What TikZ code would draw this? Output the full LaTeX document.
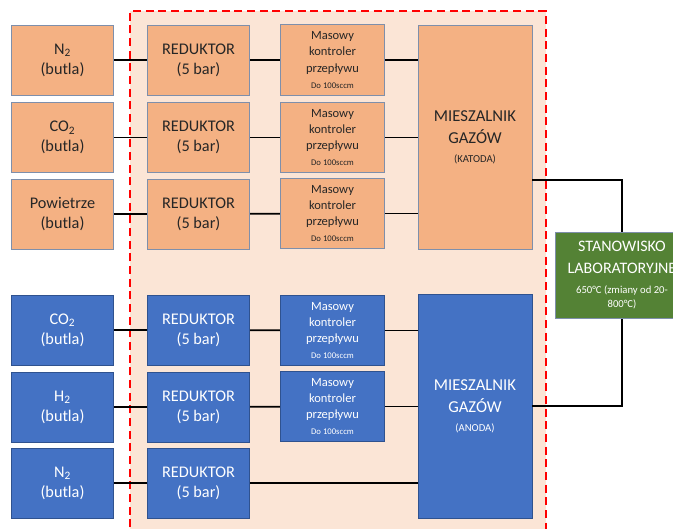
\documentclass[tikz,border=0pt]{standalone}
\usepackage{fontspec}
\setmainfont{Carlito}
\definecolor{peach}{HTML}{FBE5D6}
\definecolor{orangebox}{HTML}{F4B183}
\definecolor{bluebox}{HTML}{4472C4}
\definecolor{greenbox}{HTML}{548235}
\definecolor{edgegray}{HTML}{7E8FAB}
\definecolor{edgeblue}{HTML}{2F528F}
\definecolor{dashred}{HTML}{FF0000}
\tikzset{
  box/.style={draw, line width=0.6pt, align=center, inner sep=1pt},
  cathode/.style={box, fill=orangebox, draw=edgegray, text=black!85},
  anode/.style={box, fill=bluebox, draw=edgeblue, text=white},
  bottle/.style={minimum width=77pt, minimum height=52.5pt, font=\fontsize{12.2}{15}\selectfont},
  reducer/.style={minimum width=77pt, minimum height=52.5pt, font=\fontsize{12.2}{15}\selectfont},
  flowctl/.style={minimum width=78.5pt, minimum height=53pt, font=\fontsize{9.4}{12.2}\selectfont},
  mixer/.style={minimum width=85.5pt, minimum height=168pt, font=\fontsize{12.5}{16.5}\selectfont},
  pipe/.style={draw=black, line width=1.3pt}
}
\newcommand{\mfc}{Masowy\\kontroler\\przepływu\\{\fontsize{6.5}{9}\selectfont Do 100sccm}}
\newcommand{\red}{REDUKTOR\\(5 bar)}
\begin{document}
\begin{tikzpicture}[x=0.75pt,y=-0.75pt]
                \useasboundingbox (0,0) rectangle (673,528);
                % obszar stanowiska
                \fill[peach] (130,11) rectangle (546,540);
                \draw[dashred, line width=1.6pt, dash pattern=on 6pt off 3.5pt] (130,540) -- (130,11) -- (546,11) -- (546,540);

                % katoda
                \node[cathode,bottle] (b1) at (62.5,60) {N\textsubscript{2}\\(butla)};
                \node[cathode,bottle] (b2) at (62.5,137.5) {CO\textsubscript{2}\\(butla)};
                \node[cathode,bottle] (b3) at (62.5,214) {Powietrze\\(butla)};
                \node[cathode,reducer] (r1) at (198.5,60) {\red};
                \node[cathode,reducer] (r2) at (198.5,137.5) {\red};
                \node[cathode,reducer] (r3) at (198.5,214) {\red};
                \node[cathode,flowctl] (m1) at (332.5,60) {\mfc};
                \node[cathode,flowctl] (m2) at (332.5,137.5) {\mfc};
                \node[cathode,flowctl] (m3) at (332.5,213.5) {\mfc};
                \node[cathode,mixer] (kat) at (475,137) {MIESZALNIK\\GAZÓW\\[-2pt]{\fontsize{8}{10}\selectfont (KATODA)}};

                % anoda
                \node[anode,bottle] (b4) at (62.5,330) {CO\textsubscript{2}\\(butla)};
                \node[anode,bottle] (b5) at (62.5,407) {H\textsubscript{2}\\(butla)};
                \node[anode,bottle] (b6) at (62.5,483) {N\textsubscript{2}\\(butla)};
                \node[anode,reducer] (r4) at (198.5,330) {\red};
                \node[anode,reducer] (r5) at (198.5,407) {\red};
                \node[anode,reducer] (r6) at (198.5,483) {\red};
                \node[anode,flowctl] (m4) at (332.5,330.5) {\mfc};
                \node[anode,flowctl] (m5) at (332.5,406.5) {\mfc};
                \node[anode,mixer] (ano) at (475,406) {MIESZALNIK\\GAZÓW\\[-2pt]{\fontsize{8}{10}\selectfont (ANODA)}};

                % stanowisko
                \node[box, fill=greenbox, draw=edgegray, text=white, minimum width=100pt, minimum height=65pt,
                      font=\fontsize{12}{16}\selectfont] (stan) at (622,275.5)
                      {STANOWISKO\\LABORATORYJNE\\[-1pt]{\fontsize{8}{10}\selectfont 650°C (zmiany od 20-}\\[-5pt]{\fontsize{8}{10}\selectfont 800°C)}};

                \coordinate (kout) at (532,180);
                \coordinate (aout) at (532,406);

                % przewody
                \draw[pipe] (b1) -- (r1);
                \draw[pipe] (b2) -- (r2);
                \draw[pipe] (b3) -- (r3);
                \draw[pipe] (b4) -- (r4);
                \draw[pipe] (b5) -- (r5);
                \draw[pipe] (b6) -- (r6);
                \draw[pipe] (r1) -- (m1);
                \draw[pipe] (r2) -- (m2);
                \draw[pipe] (r3) -- (m3);
                \draw[pipe] (r4) -- (m4);
                \draw[pipe] (r5) -- (m5);
                \draw[pipe] (m1.east) -- (m1.east -| kat.west);
                \draw[pipe] (m2.east) -- (m2.east -| kat.west);
                \draw[pipe] (m3.east) -- (m3.east -| kat.west);
                \draw[pipe] (m4.east) -- (m4.east -| ano.west);
                \draw[pipe] (m5.east) -- (m5.east -| ano.west);
                \draw[pipe] (r6.east) -- (r6.east -| ano.west);
                \draw[pipe] (kout) -| (stan.north);
                \draw[pipe] (aout) -| (stan.south);

            \end{tikzpicture}
\end{document}
